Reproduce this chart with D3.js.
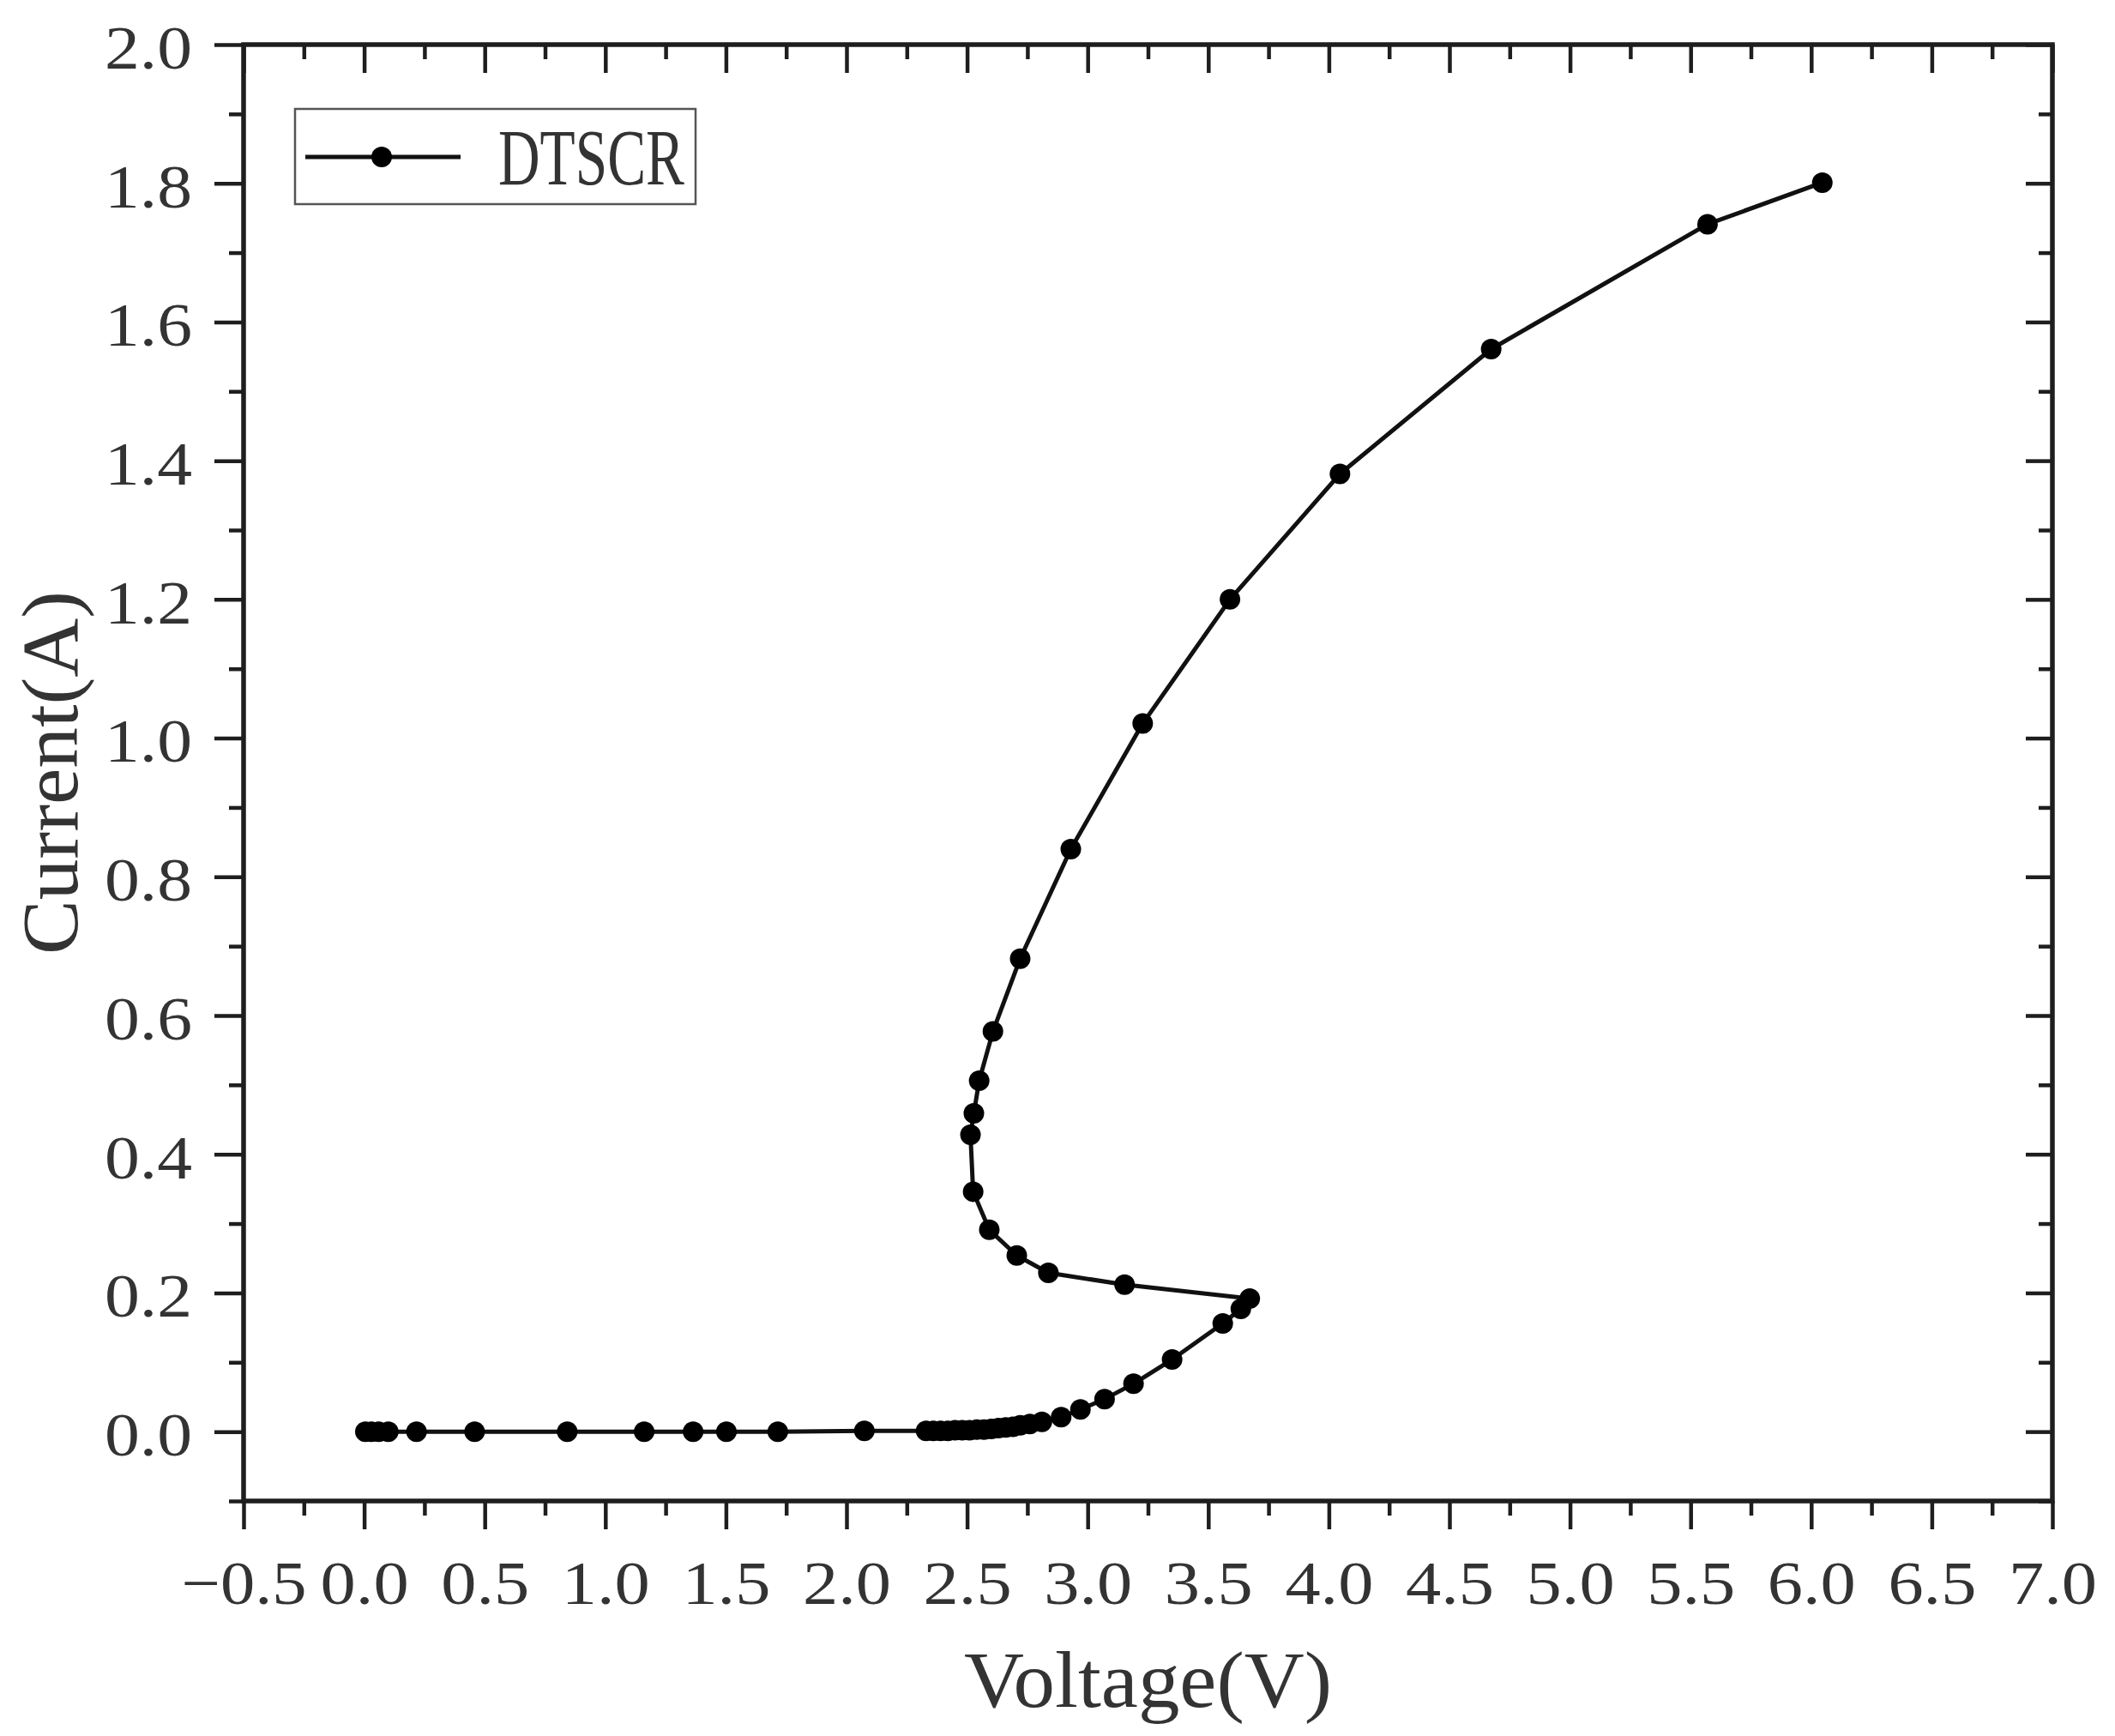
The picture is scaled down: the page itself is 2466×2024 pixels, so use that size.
<!DOCTYPE html>
<html>
<head>
<meta charset="utf-8">
<script src="https://cdn.jsdelivr.net/npm/d3@7"></script>
<style>
  body { margin: 0; background: #fff; }
  text { font-family: 'Liberation Serif', 'DejaVu Serif', serif; fill: #333; }
</style>
</head>
<body>
<div id="chart"></div>
<script>
// DTSCR I-V curve (TLP)
const voltage = [
  0.005, 0.03, 0.06, 0.10, 0.217, 0.458, 0.842, 1.161, 1.364, 1.502, 1.715, 2.074,
  2.33, 2.36, 2.39, 2.42, 2.45, 2.48, 2.51, 2.54, 2.57, 2.60, 2.63, 2.66, 2.69, 2.72, 2.76,
  2.81, 2.89, 2.97, 3.07, 3.19, 3.35, 3.56, 3.635, 3.672,
  3.153, 2.837, 2.706, 2.592, 2.525, 2.514, 2.528, 2.55, 2.607, 2.72, 2.93,
  3.228, 3.59, 4.046, 4.673, 5.57, 6.046,
];
const current = [
  0, 0, 0, 0, 0, 0, 0, 0, 0, 0, 0, 0.001,
  0.001, 0.001, 0.001, 0.001, 0.002, 0.002, 0.002, 0.003, 0.003, 0.004, 0.005, 0.006, 0.007, 0.009, 0.011,
  0.014, 0.021, 0.032, 0.047, 0.069, 0.104, 0.156, 0.177, 0.192,
  0.212, 0.229, 0.254, 0.291, 0.346, 0.428, 0.459, 0.506, 0.577, 0.682, 0.84,
  1.021, 1.2, 1.381, 1.561, 1.741, 1.801,
];
const seriesName = 'DTSCR';

const xMajor = [-0.5, 0, 0.5, 1, 1.5, 2, 2.5, 3, 3.5, 4, 4.5, 5, 5.5, 6, 6.5, 7];
const xMinor = [-0.25, 0.25, 0.75, 1.25, 1.75, 2.25, 2.75, 3.25, 3.75, 4.25, 4.75, 5.25, 5.75, 6.25, 6.75];
const yMajor = [0, 0.2, 0.4, 0.6, 0.8, 1.0, 1.2, 1.4, 1.6, 1.8, 2.0];
const yMinor = [-0.1, 0.1, 0.3, 0.5, 0.7, 0.9, 1.1, 1.3, 1.5, 1.7, 1.9];

const size = { width: 2466, height: 2024 };
const margin = { left: 284, right: 73, top: 52, bottom: 274 };
const w = size.width - margin.left - margin.right;
const h = size.height - margin.top - margin.bottom;

const x = d3.scaleLinear().domain([-0.5, 7.0]).range([0, w]);
const y = d3.scaleLinear().domain([-0.1, 2.0]).range([h, 0]);

const fmt = d3.format('.1f');
const axisColor = '#1e1e1e';

const svg = d3.select('#chart')
  .append('svg')
  .attr('width', size.width)
  .attr('height', size.height);

const g = svg.append('g')
  .attr('transform', `translate(${margin.left},${margin.top})`);

function styleAxis(sel) {
  sel.select('.domain').remove();
  sel.selectAll('line').attr('stroke', axisColor).attr('stroke-width', 4.5);
}

// bottom axis: labels + outward ticks
const bottom = g.append('g')
  .attr('transform', `translate(0,${h})`)
  .call(d3.axisBottom(x).tickValues(xMajor).tickSize(33).tickPadding(36).tickFormat(fmt));
bottom.call(styleAxis);
bottom.selectAll('text')
  .style('font-size', '72px')
  .attr('fill', '#333')
  .attr('textLength', (d) => (d < 0 ? 146 : 103))
  .attr('lengthAdjust', 'spacingAndGlyphs');
g.append('g')
  .attr('transform', `translate(0,${h})`)
  .call(d3.axisBottom(x).tickValues(xMinor).tickSize(17).tickFormat(''))
  .call(styleAxis);

// top axis: inward ticks
g.append('g')
  .call(d3.axisBottom(x).tickValues(xMajor).tickSize(33).tickFormat(''))
  .call(styleAxis);
g.append('g')
  .call(d3.axisBottom(x).tickValues(xMinor).tickSize(17).tickFormat(''))
  .call(styleAxis);

// left axis
const left = g.append('g')
  .call(d3.axisLeft(y).tickValues(yMajor).tickSize(34).tickPadding(26).tickFormat(fmt));
left.call(styleAxis);
left.selectAll('text')
  .style('font-size', '72px')
  .attr('fill', '#333')
  .attr('dy', '0.38em')
  .attr('textLength', 102)
  .attr('lengthAdjust', 'spacingAndGlyphs');
g.append('g')
  .call(d3.axisLeft(y).tickValues(yMinor).tickSize(17).tickFormat(''))
  .call(styleAxis);

// right axis: inward ticks
g.append('g')
  .attr('transform', `translate(${w},0)`)
  .call(d3.axisLeft(y).tickValues(yMajor).tickSize(31).tickFormat(''))
  .call(styleAxis);
g.append('g')
  .attr('transform', `translate(${w},0)`)
  .call(d3.axisLeft(y).tickValues(yMinor).tickSize(16).tickFormat(''))
  .call(styleAxis);

// frame
g.append('rect')
  .attr('x', 0)
  .attr('y', 0)
  .attr('width', w)
  .attr('height', h)
  .attr('fill', 'none')
  .attr('stroke', axisColor)
  .attr('stroke-width', 5.5);

// data
const points = voltage.map((v, i) => ({ v, c: current[i] }));

g.append('path')
  .datum(points)
  .attr('fill', 'none')
  .attr('stroke', '#111')
  .attr('stroke-width', 5)
  .attr('stroke-linejoin', 'round')
  .attr('d', d3.line().x((d) => x(d.v)).y((d) => y(d.c)));

g.selectAll('circle.pt')
  .data(points)
  .enter()
  .append('circle')
  .attr('class', 'pt')
  .attr('cx', (d) => x(d.v))
  .attr('cy', (d) => y(d.c))
  .attr('r', 12)
  .attr('fill', '#000');

// axis titles
svg.append('text')
  .attr('x', margin.left + w / 2)
  .attr('y', 1990)
  .attr('text-anchor', 'middle')
  .attr('textLength', 429)
  .attr('lengthAdjust', 'spacingAndGlyphs')
  .style('font-size', '94px')
  .text('Voltage(V)');

svg.append('text')
  .attr('transform', `translate(90,${margin.top + h / 2}) rotate(-90)`)
  .attr('text-anchor', 'middle')
  .attr('textLength', 424)
  .attr('lengthAdjust', 'spacingAndGlyphs')
  .style('font-size', '94px')
  .text('Current(A)');

// legend
const legend = svg.append('g');
legend.append('rect')
  .attr('x', 344)
  .attr('y', 127)
  .attr('width', 467)
  .attr('height', 111)
  .attr('fill', '#fff')
  .attr('stroke', '#555')
  .attr('stroke-width', 2.5);
legend.append('line')
  .attr('x1', 356)
  .attr('x2', 537)
  .attr('y1', 183)
  .attr('y2', 183)
  .attr('stroke', '#111')
  .attr('stroke-width', 5);
legend.append('circle')
  .attr('cx', 445)
  .attr('cy', 183)
  .attr('r', 12)
  .attr('fill', '#000');
legend.append('text')
  .attr('x', 581)
  .attr('y', 215)
  .attr('textLength', 217)
  .attr('lengthAdjust', 'spacingAndGlyphs')
  .style('font-size', '94px')
  .text(seriesName);
</script>
</body>
</html>
